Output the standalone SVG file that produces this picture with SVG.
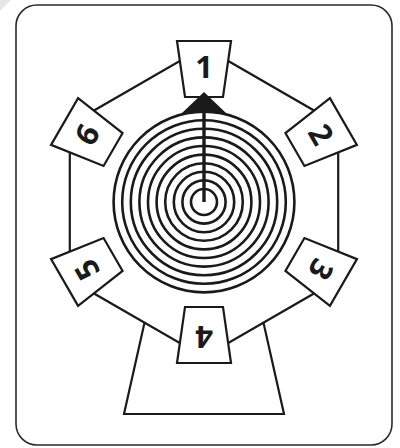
<svg xmlns="http://www.w3.org/2000/svg" width="400" height="448" viewBox="0 0 400 448">
<style>
.ln{fill:none;stroke:#1a1a1a;stroke-width:2.2;stroke-linejoin:miter}
.tab{fill:#fff;stroke:#1a1a1a;stroke-width:2.2;stroke-linejoin:miter}
.ring{fill:none;stroke:#1a1a1a;stroke-width:2.6}
.lbl{font-family:"Open Sans","Liberation Sans",sans-serif;font-weight:700;font-size:31px;fill:#1a1a1a;text-anchor:middle}
</style>
<defs>
<polygon id="tabshape" points="177,41 231,41 223,97 185,97"/>
</defs>
<rect width="400" height="448" fill="#fff"/>
<polygon points="0,0 11,0 0,11" fill="#e6e6e6"/>
<rect id="frame" x="16" y="5" width="376" height="440" rx="21" ry="21" fill="#fff" stroke="#2a2a2a" stroke-width="1.6"/>
<g id="stand">
<polygon class="tab" points="149.6,300 258.4,300 284,414 124,414"/>
</g>
<g id="connectors">
<polygon fill="#fff" stroke="#1a1a1a" stroke-width="2.2" points="204,47 338.2,124.5 338.2,279.5 204,357 69.8,279.5 69.8,124.5"/>
</g>
<g id="spiral">
<circle class="ring" cx="204" cy="202" r="13"/>
<circle class="ring" cx="204" cy="202" r="21.6"/>
<circle class="ring" cx="204" cy="202" r="30.2"/>
<circle class="ring" cx="204" cy="202" r="38.8"/>
<circle class="ring" cx="204" cy="202" r="47.4"/>
<circle class="ring" cx="204" cy="202" r="56"/>
<circle class="ring" cx="204" cy="202" r="64.6"/>
<circle class="ring" cx="204" cy="202" r="73.2"/>
<circle class="ring" cx="204" cy="202" r="81.8"/>
<circle class="ring" cx="204" cy="202" r="90.4"/>
</g>
<g id="tab1"><use href="#tabshape" class="tab"/><text class="lbl" x="204" y="78">1</text></g>
<g id="tab2" transform="rotate(60 204 202)"><use href="#tabshape" class="tab"/><text class="lbl" x="204" y="78">2</text></g>
<g id="tab3" transform="rotate(120 204 202)"><use href="#tabshape" class="tab"/><text class="lbl" x="204" y="78">3</text></g>
<g id="tab4" transform="rotate(180 204 202)"><use href="#tabshape" class="tab"/><text class="lbl" x="204" y="78">4</text></g>
<g id="tab5" transform="rotate(240 204 202)"><use href="#tabshape" class="tab"/><text class="lbl" x="204" y="78">5</text></g>
<g id="tab6" transform="rotate(300 204 202)"><use href="#tabshape" class="tab"/><text class="lbl" x="204" y="78">6</text></g>
<g id="pointer">
<line x1="204" y1="202" x2="204" y2="110" stroke="#1a1a1a" stroke-width="3.4"/>
<polygon points="204,92 226,113 182,113" fill="#1a1a1a"/>
</g>
</svg>
